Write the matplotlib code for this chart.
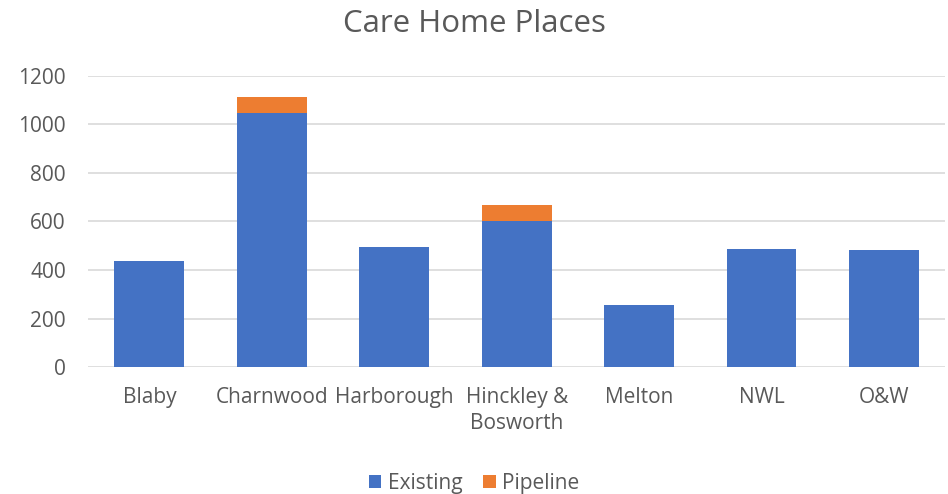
import matplotlib.pyplot as plt
import numpy as np

categories = ["Blaby", "Charnwood", "Harborough", "Hinckley &\nBosworth", "Melton", "NWL", "O&W"]
existing = [438, 1048, 494, 600, 256, 488, 484]
pipeline = [0, 64, 0, 68, 0, 0, 0]

C_EXIST = "#4472C4"
C_PIPE = "#ED7D31"
TXT = "#595959"

plt.rcParams["font.family"] = ["Open Sans", "DejaVu Sans"]

fig = plt.figure(figsize=(9.48, 4.94), dpi=100)
ax = fig.add_axes([0.093, 0.2565, 0.904, 0.5903])

x = np.arange(len(categories))
ax.bar(x, existing, width=0.57, color=C_EXIST, zorder=3, label="Existing")
ax.bar(x, pipeline, width=0.57, bottom=existing, color=C_PIPE, zorder=3, label="Pipeline")

ax.set_xlim(-0.5, len(categories) - 0.5)
ax.set_ylim(0, 1200)
ax.set_yticks(range(0, 1201, 200))
ax.set_xticks(x)
ax.set_xticklabels(categories, linespacing=1.3)
ax.yaxis.grid(True, color="#d9d9d9", linewidth=1.2, zorder=0)
for s in ax.spines.values():
    s.set_visible(False)
ax.tick_params(axis="both", length=0, labelsize=15, colors=TXT)
ax.tick_params(axis="x", pad=14)
ax.tick_params(axis="y", pad=16)

fig.text(0.5, 0.952, "Care Home Places", ha="center", va="center", fontsize=22.5, color=TXT)

fig.legend(loc="center", bbox_to_anchor=(0.5, 0.022), ncol=2, frameon=False,
           fontsize=15, labelcolor=TXT, handlelength=0.6, handleheight=0.6,
           handletextpad=0.3, columnspacing=1.0)

fig.savefig("out.png", dpi=100)
